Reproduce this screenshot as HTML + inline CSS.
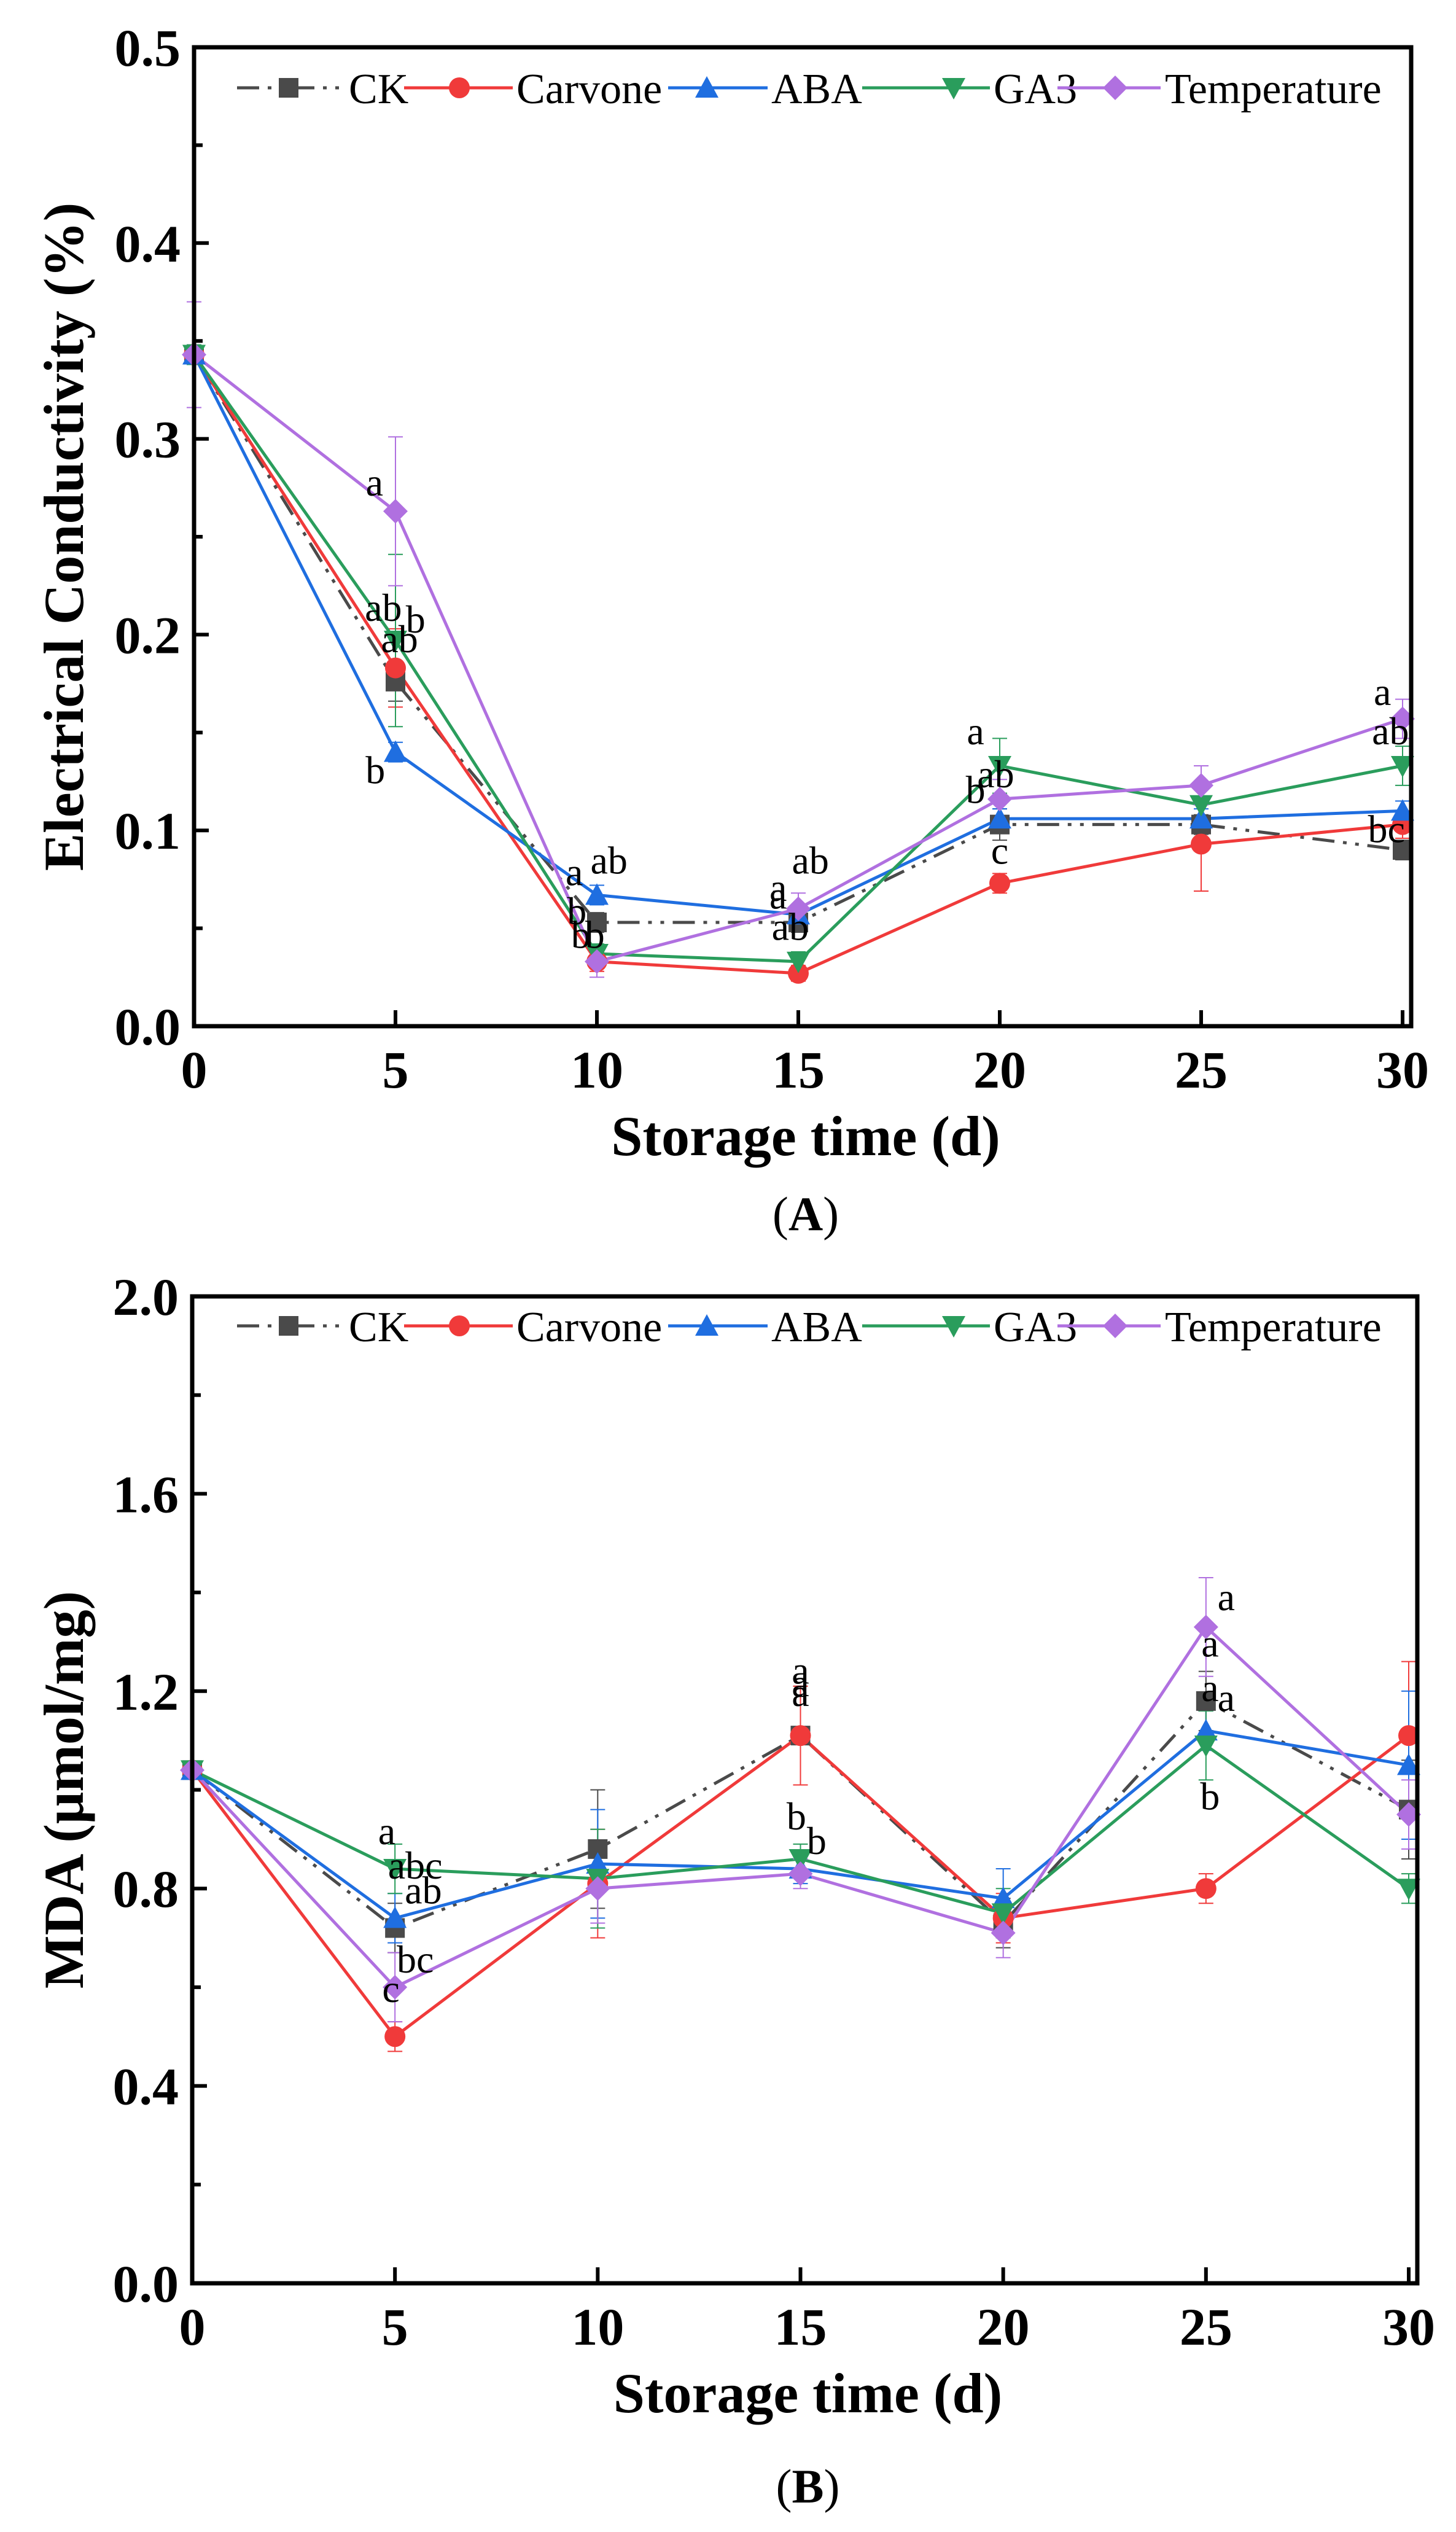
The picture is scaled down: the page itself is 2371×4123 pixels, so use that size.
<!DOCTYPE html>
<html><head><meta charset="utf-8"><style>
html,body{margin:0;padding:0;background:#fff;}
svg{display:block;font-family:"Liberation Serif",serif;}
</style></head><body>
<svg id="fig" width="2371" height="4123" viewBox="0 0 2371 4123" xmlns="http://www.w3.org/2000/svg"></svg>
<script>
const days = [0,5,10,15,20,25,30];
const seriesNames = ["CK","Carvone","ABA","GA3","Temperature"];
// Panel A: electrical conductivity
const ecCK   = [0.343,0.176,0.053,0.053,0.103,0.103,0.090];
const ecCarv = [0.343,0.183,0.033,0.027,0.073,0.093,0.103];
const ecABA  = [0.343,0.140,0.067,0.057,0.106,0.106,0.110];
const ecGA3  = [0.343,0.197,0.037,0.033,0.133,0.113,0.133];
const ecTemp = [0.343,0.263,0.033,0.060,0.116,0.123,0.157];
const ecErrCK   = [0.005,0.010,0.005,0.005,0.008,0.005,0.005];
const ecErrCarv = [0.005,0.020,0.005,0.004,0.005,0.024,0.007];
const ecErrABA  = [0.005,0.005,0.005,0.005,0.005,0.005,0.005];
const ecErrGA3  = [0.005,0.044,0.005,0.005,0.014,0.008,0.010];
const ecErrTemp = [0.027,0.038,0.008,0.008,0.010,0.010,0.010];
const ecTicks = ["0.0","0.1","0.2","0.3","0.4","0.5"];
const ecLetters = [[4.48,0.271,"a"],[4.7,0.207,"ab"],[5.5,0.201,"b"],[5.1,0.191,"ab"],[4.5,0.124,"b"],
 [9.44,0.072,"a"],[10.3,0.078,"ab"],[9.5,0.052,"b"],[9.6,0.040,"b"],[9.95,0.040,"b"],
 [14.5,0.064,"a"],[14.5,0.060,"a"],[15.3,0.078,"ab"],[14.8,0.044,"ab"],
 [19.4,0.144,"a"],[19.9,0.122,"ab"],[19.4,0.114,"b"],[20,0.083,"c"],
 [29.5,0.164,"a"],[29.7,0.144,"ab"],[29.6,0.094,"bc"]];
// Panel B: MDA
const mdaCK   = [1.04,0.72,0.88,1.11,0.73,1.18,0.96];
const mdaCarv = [1.04,0.50,0.81,1.11,0.74,0.80,1.11];
const mdaABA  = [1.04,0.74,0.85,0.84,0.78,1.12,1.05];
const mdaGA3  = [1.04,0.84,0.82,0.86,0.75,1.09,0.80];
const mdaTemp = [1.04,0.60,0.80,0.83,0.71,1.33,0.95];
const mdaErrCK   = [0.01,0.05,0.12,0.10,0.05,0.06,0.10];
const mdaErrCarv = [0.01,0.03,0.11,0.10,0.05,0.03,0.15];
const mdaErrABA  = [0.01,0.05,0.11,0.03,0.06,0.04,0.15];
const mdaErrGA3  = [0.01,0.05,0.10,0.03,0.05,0.07,0.03];
const mdaErrTemp = [0.01,0.07,0.07,0.03,0.05,0.10,0.07];
const mdaTicks = ["0.0","0.4","0.8","1.2","1.6","2.0"];
const mdaLetters = [[4.8,0.89,"a"],[5.5,0.82,"abc"],[5.7,0.77,"ab"],[5.5,0.63,"bc"],[4.9,0.57,"c"],
 [15,1.215,"a"],[15,1.19,"a"],[15,1.17,"a"],[14.9,0.92,"b"],[15.4,0.87,"b"],
 [25.5,1.364,"a"],[25.1,1.27,"a"],[25.1,1.18,"a"],[25.5,1.16,"a"],[25.1,0.96,"b"]];

const colors = ["#4a4a4a","#f03a3a","#1f6ee0","#2a9d5c","#b070e0"];
const markers = ["square","circle","triangle","tridown","diamond"];
const NS="http://www.w3.org/2000/svg";
const svg=document.getElementById('fig');
function mk(tag,attrs,parent){const e=document.createElementNS(NS,tag);for(const k in attrs)e.setAttribute(k,attrs[k]);(parent||svg).appendChild(e);return e;}

function marker(g,type,x,y,c){
  const s=16;let e;
  if(type==="square") e=mk('rect',{x:x-s,y:y-s,width:2*s,height:2*s,fill:c},g);
  else if(type==="circle") e=mk('circle',{cx:x,cy:y,r:s+1,fill:c},g);
  else if(type==="triangle") e=mk('polygon',{points:`${x},${y-s-3} ${x+s+3},${y+s} ${x-s-3},${y+s}`,fill:c},g);
  else if(type==="tridown") e=mk('polygon',{points:`${x},${y+s+3} ${x+s+3},${y-s} ${x-s-3},${y-s}`,fill:c},g);
  else e=mk('polygon',{points:`${x},${y-s-4} ${x+s+4},${y} ${x},${y+s+4} ${x-s-4},${y}`,fill:c},g);
  
  
}

function panel(p){
  const g=mk('g',{});
  
  
  const X=d=>p.L+(p.X30-p.L)*d/30;
  const Y=v=>p.B-(p.B-p.T)*v/p.ymax;
  p.vals.forEach((vals,si)=>{
    const sg=mk('g',{},g);
    
    
    days.forEach((d,i)=>{
      const x=X(d),e=p.errs[si][i];
      const eb=mk('path',{d:`M${x},${Y(vals[i]-e)}V${Y(vals[i]+e)}M${x-12},${Y(vals[i]-e)}h24M${x-12},${Y(vals[i]+e)}h24`,stroke:colors[si],'stroke-width':2,fill:'none'},sg);
      
      
    });
    const pts=days.map((d,i)=>X(d)+','+Y(vals[i])).join(' ');
    const ln=mk('polyline',{points:pts,fill:'none',stroke:colors[si],'stroke-width':5},sg);
    if(si===0) ln.setAttribute('stroke-dasharray','36 14 6 14 6 14');
    
    
  });
  p.vals.forEach((vals,si)=>{
    days.forEach((d,i)=>marker(g,markers[si],X(d),Y(vals[i]),colors[si]));
  });
  p.letters.forEach(l=>{
    const t=mk('text',{x:X(l[0]),y:Y(l[1]),'font-size':64,'text-anchor':'middle',fill:'#000'},g);
    t.textContent=l[2];
    
    
  });
  const fr=mk('rect',{x:p.L,y:p.T,width:p.R-p.L,height:p.B-p.T,fill:'none',stroke:'#000','stroke-width':7},g);
  
  
  p.ticks.forEach((lab,i)=>{
    const v=p.ymax*i/(p.ticks.length-1);
    const y=Y(v);
    mk('line',{x1:p.L,x2:p.L+24,y1:y,y2:y,stroke:'#000','stroke-width':6},g);
    if(i<p.ticks.length-1){const ym=Y(v+p.ymax/(p.ticks.length-1)/2);mk('line',{x1:p.L,x2:p.L+14,y1:ym,y2:ym,stroke:'#000','stroke-width':6},g);}
    const t=mk('text',{x:p.L-22,y:y+30,'font-size':86,'font-weight':'bold','text-anchor':'end'},g);
    t.textContent=lab;
    
    
  });
  days.forEach(d=>{
    const x=X(d);
    mk('line',{x1:x,x2:x,y1:p.B,y2:p.B-26,stroke:'#000','stroke-width':6},g);
    const t=mk('text',{x:x,y:p.B+100,'font-size':86,'font-weight':'bold','text-anchor':'middle'},g);
    t.textContent=d;
    
    
  });
  const xt=mk('text',{x:(p.L+p.R)/2+5,y:p.B+p.xtOff,'font-size':92,'font-weight':'bold','text-anchor':'middle'},g);
  xt.textContent='Storage time (d)';
  
  
  const cy=(p.T+p.B)/2;
  const yt=mk('text',{x:0,y:0,transform:`translate(135,${cy}) rotate(-90)`,'font-size':92,'font-weight':'bold','text-anchor':'middle'},g);
  yt.textContent=p.ytitle;
  
  
  const pl=mk('text',{x:(p.L+p.R)/2+5,y:p.B+p.plOff,'font-size':78,'text-anchor':'middle'},g);
  pl.innerHTML='(<tspan font-weight="bold">'+p.letter+'</tspan>)';
  
  
  const lg=mk('g',{},g);
  
  
  const ly=p.T+p.legY;
  const segs=[[386,560,470,568],[658,835,748,841],[1088,1250,1151,1256],[1404,1612,1553,1618],[1722,1890,1816,1897]];
  segs.forEach((s,i)=>{
    const l=mk('line',{x1:s[0],x2:s[1],y1:ly,y2:ly,stroke:colors[i],'stroke-width':5},lg);
    if(i===0) l.setAttribute('stroke-dasharray','36 14 6 14 6 14');
    marker(lg,markers[i],s[2],ly,colors[i]);
    const t=mk('text',{x:s[3],y:ly+25,'font-size':70},lg);
    t.textContent=seriesNames[i];
    
    
  });
}

panel({name:'panel-a-conductivity',L:316,R:2298,T:77,B:1671,X30:2284,ymax:0.5,ticks:ecTicks,
  vals:[ecCK,ecCarv,ecABA,ecGA3,ecTemp],errs:[ecErrCK,ecErrCarv,ecErrABA,ecErrGA3,ecErrTemp],
  letters:ecLetters,ytitle:'Electrical Conductivity (%)',letter:'A',legY:66,xtOff:210,plOff:332});
panel({name:'panel-b-mda',L:313,R:2308,T:2111,B:3718,X30:2294,ymax:2.0,ticks:mdaTicks,
  vals:[mdaCK,mdaCarv,mdaABA,mdaGA3,mdaTemp],errs:[mdaErrCK,mdaErrCarv,mdaErrABA,mdaErrGA3,mdaErrTemp],
  letters:mdaLetters,ytitle:'MDA (μmol/mg)',letter:'B',legY:48,xtOff:210,plOff:357});
</script>
</body></html>
